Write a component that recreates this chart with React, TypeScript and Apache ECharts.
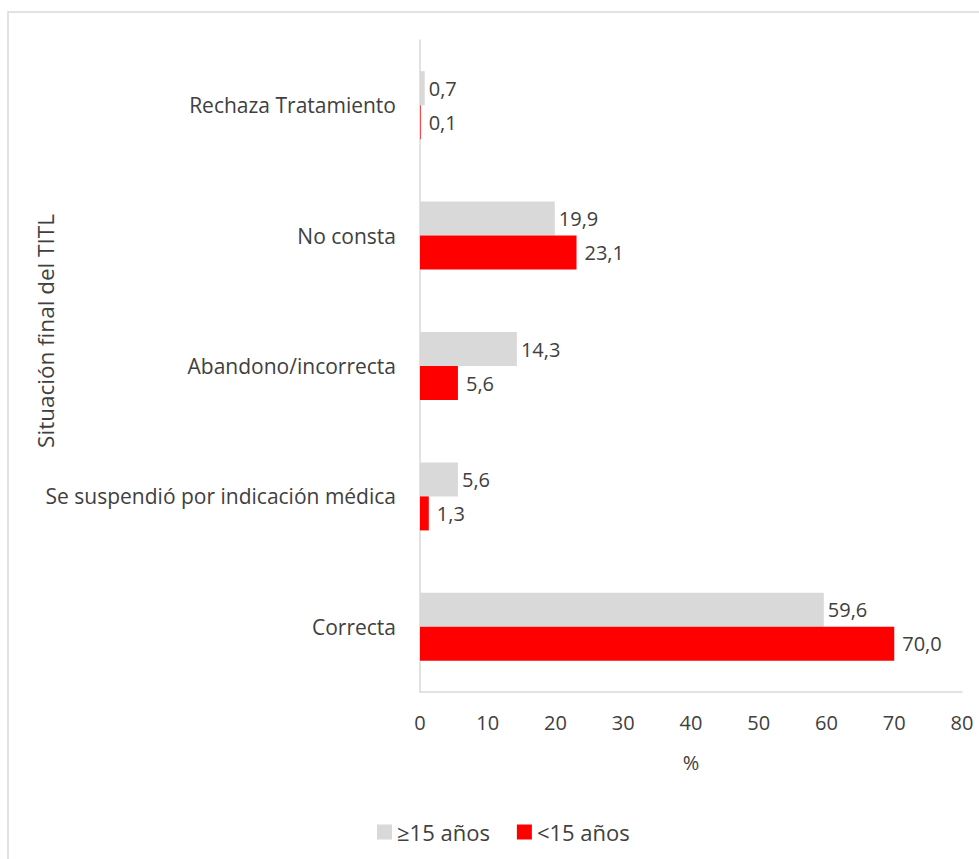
import React, { useEffect, useRef } from "react";
import * as echarts from "echarts";

const categories = [
  "Correcta",
  "Se suspendió por indicación médica",
  "Abandono/incorrecta",
  "No consta",
  "Rechaza Tratamiento",
];
const seriesOver15Name = "≥15 años";
const seriesUnder15Name = "<15 años";
const over15 = [59.6, 5.6, 14.3, 19.9, 0.7];
const under15 = [70.0, 1.3, 5.6, 23.1, 0.1];
const xTicks = { min: 0, max: 80, interval: 10 };
const yAxisTitle = "Situación final del TITL";
const xAxisTitle = "%";

const FONT = "'Open Sans', sans-serif";
const TEXT = "#404040";
const FS = 20;

const fmt = (v: number) => v.toFixed(1).replace(".", ",");

export default function App() {
  const ref = useRef<HTMLDivElement>(null);
  useEffect(() => {
    if (!ref.current) return;
    const chart = echarts.init(ref.current, undefined, { renderer: "svg" });
    chart.setOption({
      animation: false,
      backgroundColor: "#ffffff",
      textStyle: { fontFamily: FONT, color: TEXT },
      graphic: [
        {
          type: "rect",
          shape: { x: 8, y: 12, width: 1000, height: 1000 },
          style: { fill: "none", stroke: "#d9d9d9", lineWidth: 1.5 },
          silent: true,
        },
        {
          type: "text",
          x: 45,
          y: 331,
          rotation: Math.PI / 2,
          style: {
            text: yAxisTitle,
            font: `22.5px ${FONT}`,
            fill: TEXT,
            align: "center",
            verticalAlign: "middle",
          },
        },
      ],
      legend: {
        data: [seriesOver15Name, seriesUnder15Name],
        left: 372,
        top: 816,
        icon: "rect",
        itemWidth: 15,
        itemHeight: 15,
        itemGap: 27,
        textStyle: { fontFamily: FONT, fontSize: 22, color: TEXT },
      },
      grid: { left: 420, right: 17, top: 40, bottom: 167, containLabel: false },
      xAxis: {
        type: "value",
        min: xTicks.min,
        max: xTicks.max,
        interval: xTicks.interval,
        name: xAxisTitle,
        nameLocation: "middle",
        nameGap: 60,
        nameTextStyle: { fontFamily: FONT, fontSize: 20, color: TEXT },
        axisLine: { show: true, lineStyle: { color: "#d9d9d9", width: 1.5 } },
        axisTick: { show: false },
        splitLine: { show: false },
        axisLabel: { fontFamily: FONT, fontSize: FS, color: TEXT, margin: 20 },
      },
      yAxis: {
        type: "category",
        data: categories,
        axisLine: { show: true, lineStyle: { color: "#d9d9d9", width: 1.5 } },
        axisTick: { show: false },
        axisLabel: { fontFamily: FONT, fontSize: 21, color: TEXT, margin: 24 },
      },
      series: [
        {
          name: seriesOver15Name,
          type: "bar",
          data: over15,
          barWidth: 34,
          barGap: "0%",
          itemStyle: { color: "#d9d9d9" },
          label: {
            show: true,
            position: "right",
            distance: 4,
            formatter: (p: any) => fmt(p.value),
            fontFamily: FONT,
            fontSize: FS,
            color: TEXT,
          },
        },
        {
          name: seriesUnder15Name,
          type: "bar",
          data: under15,
          barWidth: 34,
          barGap: "0%",
          itemStyle: { color: "#ff0000" },
          label: {
            show: true,
            position: "right",
            distance: 8,
            formatter: (p: any) => fmt(p.value),
            fontFamily: FONT,
            fontSize: FS,
            color: TEXT,
          },
        },
      ],
    });
    return () => chart.dispose();
  }, []);
  return (
    <div
      ref={ref}
      style={{ position: "fixed", left: 0, top: 0, width: 979, height: 859 }}
    />
  );
}
